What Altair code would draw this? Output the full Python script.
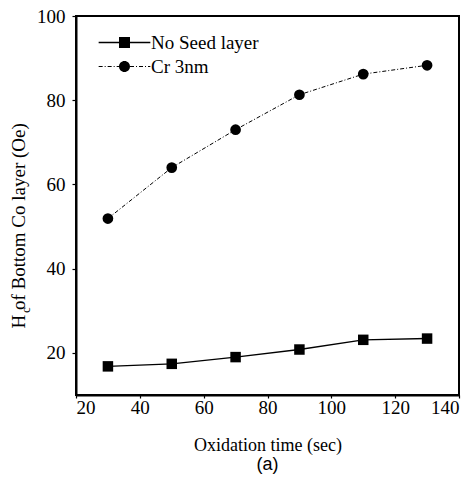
import altair as alt
import pandas as pd

# ---- data ----
time_sec = [30, 50, 70, 90, 110, 130]
no_seed = [16.8, 17.4, 19.0, 20.8, 23.1, 23.4]
cr_3nm = [51.9, 64.0, 73.0, 81.3, 86.2, 88.3]
series_names = ["No Seed layer", "Cr 3nm"]
x_ticks = [20, 40, 60, 80, 100, 120, 140]
y_ticks = [20, 40, 60, 80, 100]

df = pd.DataFrame({
    "t": time_sec * 2,
    "hc": no_seed + cr_3nm,
    "series": [series_names[0]] * len(time_sec) + [series_names[1]] * len(time_sec),
})

FONT = "Liberation Serif"
DASH = [4, 2, 1, 2]

x = alt.X("t:Q",
          scale=alt.Scale(domain=[20, 140], nice=False, zero=False),
          axis=alt.Axis(values=x_ticks, title="Oxidation time (sec)",
                        tickSize=3, labelPadding=0, titlePadding=19,
                        titleFontSize=18))
y = alt.Y("hc:Q",
          scale=alt.Scale(domain=[10, 100], nice=False, zero=False),
          axis=alt.Axis(values=y_ticks, title="H   of Bottom Co layer (Oe)",
                        tickSize=4, labelPadding=7,
                        titleAngle=270, titleAlign="left", titleBaseline="middle",
                        titleX=-58, titleY=312))

base = alt.Chart(df).encode(x=x, y=y)
is_ns = alt.datum.series == series_names[0]
is_cr = alt.datum.series == series_names[1]

line_ns = base.transform_filter(is_ns).mark_line(color="black", strokeWidth=1.4)
line_cr = base.transform_filter(is_cr).mark_line(color="black", strokeWidth=1.0, strokeDash=DASH)
pt_ns = base.transform_filter(is_ns).mark_point(shape="square", filled=True, color="black", size=110, opacity=1)
pt_cr = base.transform_filter(is_cr).mark_point(shape="circle", filled=True, color="black", size=115, opacity=1)


# legend symbols: a line (as thin filled bars) through a marker, in symbol units (1 unit = 5.5 px)
def bar(a, b, h):
    return f"M{a:.3f},{-h:.3f}H{b:.3f}V{h:.3f}H{a:.3f}Z"


def dashed(a, b, h, pattern_px, unit=5.5):
    parts, pos, i = [], a, 0
    pat = [p / unit for p in pattern_px]
    while pos < b:
        seg = pat[i % len(pat)]
        if i % 2 == 0:
            parts.append(bar(pos, min(pos + seg, b), h))
        pos += seg
        i += 1
    return "".join(parts)


square = "M-1,-1H1V1H-1Z"
circle = "M1,0A1,1 0 1,1 -1,0A1,1 0 1,1 1,0Z"
sq_path = bar(-4.7, 4.7, 0.13) + square
ci_path = dashed(-4.7, -1, 0.09, DASH) + dashed(1, 4.7, 0.09, DASH) + circle

leg = alt.Legend(title=None, orient="none", legendX=39, legendY=17,
                 labelFont=FONT, labelFontSize=19, labelColor="black",
                 symbolSize=121, labelOffset=17, rowPadding=4, padding=0,
                 symbolOpacity=1, symbolFillColor="black", symbolStrokeColor="black",
                 symbolStrokeWidth=0.5)

legend_layer = base.transform_filter("false").mark_point(
    filled=True, color="black", opacity=1
).encode(
    shape=alt.Shape("series:N", scale=alt.Scale(domain=series_names, range=[sq_path, ci_path]), legend=leg),
)

sub_c = alt.Chart(pd.DataFrame({"s": ["c"]})).mark_text(
    angle=270, font=FONT, fontSize=13, align="center", baseline="middle", color="black"
).encode(x=alt.value(-50), y=alt.value(294), text="s:N")

chart = alt.layer(line_ns, line_cr, pt_ns, pt_cr, legend_layer, sub_c).properties(
    width=383, height=379,
    autosize=alt.AutoSizeParams(type="none"),
    padding={"left": 76, "top": 16, "right": 15, "bottom": 93},
    title=alt.TitleParams("(a)", orient="bottom", font="Liberation Sans", fontSize=18,
                          fontWeight="normal", color="black", offset=2, anchor="middle"),
).configure_view(
    stroke="black", strokeWidth=2
).configure_axis(
    domainColor="black", domainWidth=2, tickColor="black", tickWidth=1.2,
    labelFont=FONT, labelFontSize=19, labelColor="black",
    titleFont=FONT, titleFontSize=19, titleFontWeight="normal", titleColor="black",
    grid=False,
)

chart.save("out.html", embed_options={"renderer": "svg", "actions": False})
